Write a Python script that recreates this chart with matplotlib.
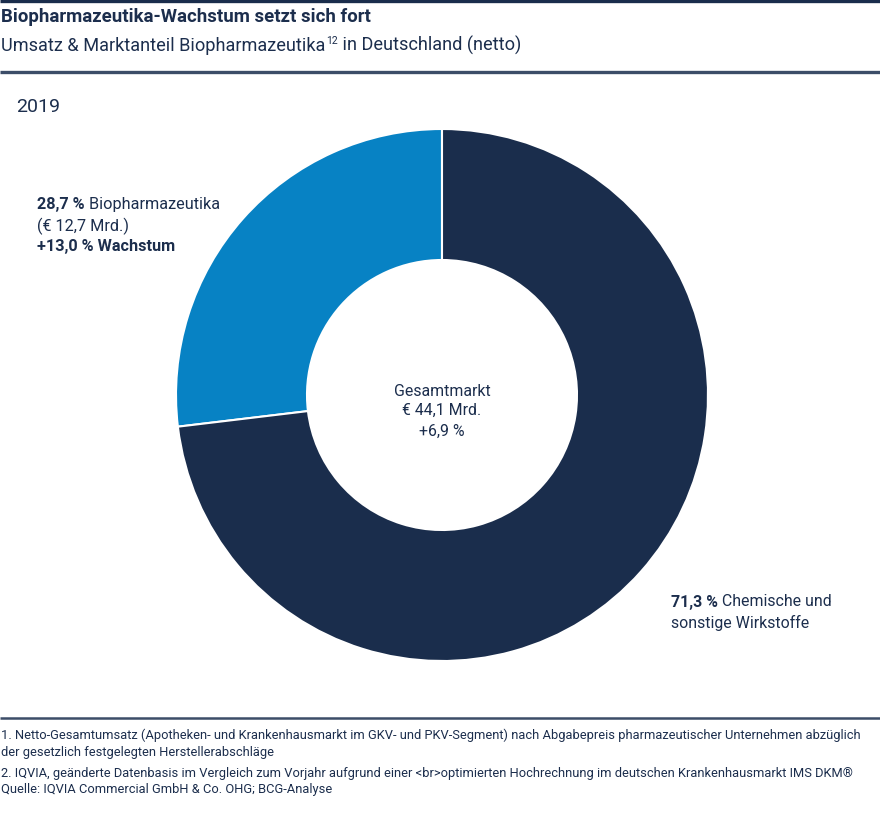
import matplotlib
matplotlib.use("Agg")
import matplotlib.pyplot as plt
from matplotlib.lines import Line2D

plt.rcParams["font.family"] = ["Roboto", "DejaVu Sans"]

# Data (drawn wedge shares as they appear in the chart, label values as printed)
segments = ["Biopharmazeutika", "Chemische und sonstige Wirkstoffe"]
drawn_share = [26.9, 73.1]
label_share = ["28,7 %", "71,3 %"]
bio_value = "(€ 12,7 Mrd.)"
bio_growth = "+13,0 % Wachstum"
total_lines = ["Gesamtmarkt", "€ 44,1 Mrd.", "+6,9 %"]
year = "2019"

NAVY = "#1a2d4c"
BLUE = "#0782c4"
TXT = "#1c2e4d"

W, H = 880, 813
fig = plt.figure(figsize=(W / 100, H / 100), dpi=100)


def fx(x):
    return x / W


def fy(y):
    return 1 - y / H


def hline(y, lw, color):
    fig.add_artist(Line2D([0, 1], [fy(y), fy(y)], transform=fig.transFigure,
                          color=color, lw=lw, solid_capstyle="butt"))


def append(prev, text, **kw):
    # put a text right after another one, on the same line
    a = plt.Annotation(text, xy=(1, 0), xycoords=prev, va="bottom", color=TXT, **kw)
    fig.add_artist(a)
    return a


# header / footer rules
hline(1.5, 2.4, NAVY)
hline(72.5, 2.4, "#3c4d68")
hline(718, 1.8, "#3c4d68")

fig.text(fx(1), fy(17), "Biopharmazeutika-Wachstum setzt sich fort",
         fontsize=13.4, fontweight="bold", color=TXT, va="center")
s = fig.text(fx(1), fy(46), "Umsatz & Marktanteil Biopharmazeutika",
             fontsize=13.1, color=TXT, va="center")
sup = plt.Annotation("12", xy=(1, 1), xycoords=s, xytext=(0.6, 1.0),
                     textcoords="offset points", va="top", fontsize=7.5,
                     color=TXT)
fig.add_artist(sup)
rest = plt.Annotation(" in Deutschland (netto)", xy=(1, 0), xycoords=(sup, s),
                      va="bottom", fontsize=13.1, color=TXT)
fig.add_artist(rest)
fig.text(fx(16), fy(107), year, fontsize=14, color=TXT, va="center")

# donut
cx, cy, r = 442, 395, 266
ax = fig.add_axes([fx(cx - r), fy(cy + r), (2 * r) / W, (2 * r) / H])
ax.pie(drawn_share, colors=[BLUE, NAVY], startangle=90, counterclock=True,
       radius=1, wedgeprops=dict(width=131 / 266, edgecolor="white", linewidth=1.5))
ax.set_xlim(-1, 1)
ax.set_ylim(-1, 1)
ax.set_aspect("equal")
ax.axis("off")

# centre label
for txt, y in zip(total_lines, [391, 410, 431]):
    fig.text(fx(cx), fy(y), txt, fontsize=11.4, color=TXT, ha="center", va="center")

# left label (biopharma)
t = fig.text(fx(37), fy(205), label_share[0], fontsize=11.7, fontweight="bold",
             color=TXT, va="center")
append(t, " " + segments[0], fontsize=11.7)
fig.text(fx(37), fy(226), bio_value, fontsize=11.7, color=TXT, va="center")
fig.text(fx(37), fy(246), bio_growth, fontsize=11.7, fontweight="bold",
         color=TXT, va="center")

# right label (chemical)
t2 = fig.text(fx(671), fy(602), label_share[1], fontsize=11.4, fontweight="bold",
              color=TXT, va="center")
append(t2, " Chemische und", fontsize=11.4)
fig.text(fx(671), fy(623), "sonstige Wirkstoffe", fontsize=11.4, color=TXT, va="center")

# footnotes
notes = [
    "1. Netto-Gesamtumsatz (Apotheken- und Krankenhausmarkt im GKV- und PKV-Segment) nach Abgabepreis pharmazeutischer Unternehmen abzüglich",
    "der gesetzlich festgelegten Herstellerabschläge",
    "2. IQVIA, geänderte Datenbasis im Vergleich zum Vorjahr aufgrund einer <br>optimierten Hochrechnung im deutschen Krankenhausmarkt IMS DKM®",
    "Quelle: IQVIA Commercial GmbH & Co. OHG; BCG-Analyse",
]
for txt, y in zip(notes, [735, 752, 773, 789]):
    fig.text(fx(1), fy(y), txt, fontsize=9.3,
             family=["Liberation Sans Narrow", "Roboto", "DejaVu Sans"],
             color=TXT, va="center")

fig.savefig("out.png", dpi=100)
